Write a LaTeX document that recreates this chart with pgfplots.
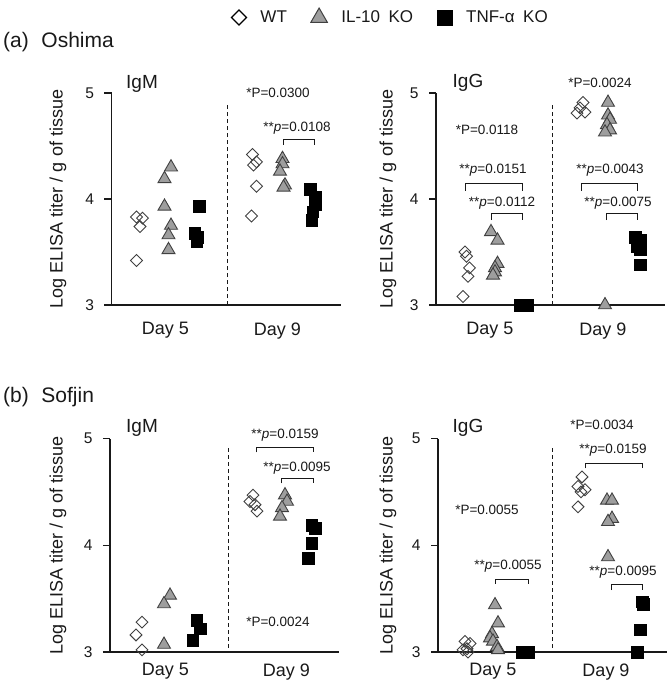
\documentclass[border=0pt]{standalone}
\usepackage{pgfplots}
\pgfplotsset{compat=1.18}
\usepackage{fontspec}
\setmainfont{Liberation Sans}

\definecolor{edge}{gray}{0.25}
\definecolor{trifill}{gray}{0.62}
\definecolor{ink}{gray}{0.1}

\newcommand{\annfont}{\fontsize{13.5bp}{15bp}\selectfont}

\tikzset{
 bracket/.style={line width=0.9bp, color=ink},
 vdash/.style={line width=1bp, color=ink, dash pattern=on 4bp off 3bp},
}

\pgfplotsset{
 wt/.style={only marks, mark=square, mark size=4.2bp, mark options={rotate=45, draw=edge, fill=white, line width=0.9bp}, forget plot},
 il/.style={only marks, mark=triangle*, mark size=7.5bp, mark options={draw=edge, fill=trifill, line width=0.9bp}, forget plot},
 tnf/.style={only marks, mark=square*, mark size=5.8bp, mark options={draw=black, fill=black, line width=0.4bp}, forget plot},
 panel/.style={
  scale only axis, width=229bp, xmin=0, xmax=229, ymin=3, ymax=5,
  axis x line=bottom, axis y line=left,
  axis line style={-, line width=1.2bp, color=ink},
  ytick={3,4,5}, tick align=outside, major tick length=7bp,
  tick style={line width=1.2bp, color=ink},
  xtick style={draw=none},
  xticklabels={Day 5, Day 9},
  /pgf/number format/assume math mode=true,
  yticklabel style={font=\fontsize{15.5bp}{17bp}\selectfont, text=ink, xshift=-7bp},
  xticklabel style={font=\fontsize{18bp}{20bp}\selectfont, text=ink},
  ylabel={Log ELISA titer / g of tissue},
  ylabel style={font=\fontsize{18bp}{20bp}\selectfont, text=ink, anchor=center},
  clip=false,
 },
}

\begin{document}
\begin{tikzpicture}
\path[use as bounding box] (0bp,0bp) rectangle (672bp,-684bp);

\node[anchor=base west, inner sep=0, font=\fontsize{21bp}{24bp}\selectfont, text=ink] at (3bp,-47bp) {(a)\hspace{0.6em}Oshima};
\node[anchor=base west, inner sep=0, font=\fontsize{21bp}{24bp}\selectfont, text=ink] at (3bp,-402bp) {(b)\hspace{0.6em}Sofjin};

% ---------------- (a) IgM
\begin{axis}[panel, at={(111.5bp,-305bp)}, anchor=south west, height=212bp,
  xtick={54,166}, xticklabel style={yshift=-7bp},
  ylabel style={at={(axis description cs:-0.234,0.5)}},
  legend style={at={(axis description cs:0.51,1.358)}, anchor=west, draw=none, fill=none,
    legend columns=3, font=\fontsize{17bp}{19bp}\selectfont, text=ink,
    /tikz/every odd column/.append style={column sep=12bp},
    /tikz/every even column/.append style={column sep=22bp}},
  legend cell align=left]
\addlegendimage{only marks, mark=square, mark size=5.3bp, mark options={rotate=45, draw=black, fill=white, line width=1.2bp}}
\addlegendentry{WT}
\addlegendimage{only marks, mark=triangle*, mark size=9.5bp, mark options={draw=edge, fill=trifill, line width=1bp}}
\addlegendentry{IL-10\hspace{0.5em}KO}
\addlegendimage{only marks, mark=square*, mark size=7.5bp, mark options={draw=black, fill=black}}
\addlegendentry{TNF-α\hspace{0.5em}KO}
\addplot[wt] coordinates {(25,3.83) (31,3.82) (28.5,3.74) (25,3.42)
  (141,4.42) (145,4.35) (142,4.32) (145,4.12) (140,3.84)};
\addplot[il] coordinates {(59.5,4.30) (53,4.19) (53,3.93) (59.5,3.75) (57,3.66) (57,3.52)
  (171,4.38) (171,4.33) (168.5,4.26) (173.5,4.13) (172,4.11)};
\addplot[tnf] coordinates {(87.5,3.93) (83,3.68) (86,3.64) (85,3.60)
  (198.5,4.09) (203.5,4.02) (203.5,3.95) (201,3.88) (200,3.80)};
\draw[vdash] (axis cs:116,3) -- (axis cs:116,4.9);
\node[font=\fontsize{19bp}{21bp}\selectfont, text=ink] at (axis cs:30.5,5.09) {IgM};
\node[font=\annfont, text=ink] at (axis cs:166.5,5.0) {*P=0.0300};
\node[font=\annfont, text=ink] at (axis cs:185.5,4.67) {**\textit{p}=0.0108};
\draw[bracket] (axis cs:171.5,4.51) -- (axis cs:171.5,4.56) -- (axis cs:202.5,4.56) -- (axis cs:202.5,4.51);
\end{axis}

% ---------------- (a) IgG
\begin{axis}[panel, at={(436bp,-305bp)}, anchor=south west, height=212bp,
  xtick={54,167}, xticklabel style={yshift=-7bp},
  ylabel style={at={(axis description cs:-0.21,0.5)}}]
\addplot[wt] coordinates {(29,3.50) (30.5,3.46) (33.5,3.35) (32,3.27) (27,3.08)
  (147,4.91) (144,4.86) (149,4.82) (141,4.81)};
\addplot[il] coordinates {(55,3.69) (61.5,3.61) (61.5,3.39) (59,3.35) (59,3.31) (57,3.28)
  (172,4.91) (172,4.79) (174,4.75) (171,4.70) (174,4.65) (169,4.63) (169,3.0)};
\addplot[tnf] coordinates {(84,3) (88,3) (91,3)
  (199,3.64) (204,3.61) (201,3.55) (204,3.52) (204,3.38)};
\draw[vdash] (axis cs:116,3) -- (axis cs:116,4.9);
\node[font=\fontsize{19bp}{21bp}\selectfont, text=ink] at (axis cs:32,5.10) {IgG};
\node[font=\annfont, text=ink] at (axis cs:164,5.10) {*P=0.0024};
\node[font=\annfont, text=ink] at (axis cs:51,4.65) {*P=0.0118};
\node[font=\annfont, text=ink] at (axis cs:57,4.27) {**\textit{p}=0.0151};
\draw[bracket] (axis cs:29,4.08) -- (axis cs:29,4.15) -- (axis cs:86,4.15) -- (axis cs:86,4.08);
\node[font=\annfont, text=ink] at (axis cs:66,3.96) {**\textit{p}=0.0112};
\draw[bracket] (axis cs:55,3.80) -- (axis cs:55,3.86) -- (axis cs:86,3.86) -- (axis cs:86,3.80);
\node[font=\annfont, text=ink] at (axis cs:174,4.27) {**\textit{p}=0.0043};
\draw[bracket] (axis cs:145,4.08) -- (axis cs:145,4.15) -- (axis cs:201,4.15) -- (axis cs:201,4.08);
\node[font=\annfont, text=ink] at (axis cs:182,3.96) {**\textit{p}=0.0075};
\draw[bracket] (axis cs:170,3.80) -- (axis cs:170,3.86) -- (axis cs:201,3.86) -- (axis cs:201,3.80);
\end{axis}

% ---------------- (b) IgM
\begin{axis}[panel, at={(110bp,-652bp)}, anchor=south west, height=213.5bp,
  xtick={55.5,176.5}, xticklabel style={yshift=-1bp},
  ylabel style={at={(axis description cs:-0.227,0.5)}}]
\addplot[wt] coordinates {(32,3.28) (26,3.16) (32,3.02)
  (143,4.47) (140,4.41) (145,4.38) (147,4.32)};
\addplot[il] coordinates {(60,3.53) (54,3.45) (54,3.07)
  (175,4.47) (177,4.41) (172,4.35) (170,4.27)};
\addplot[tnf] coordinates {(86.5,3.30) (90,3.22) (82.5,3.11)
  (201.5,4.19) (205,4.16) (201.5,4.02) (198,3.88)};
\draw[vdash] (axis cs:118,3.04) -- (axis cs:118,4.91);
\node[font=\fontsize{19bp}{21bp}\selectfont, text=ink] at (axis cs:32,5.10) {IgM};
\node[font=\annfont, text=ink] at (axis cs:175,5.03) {**\textit{p}=0.0159};
\draw[bracket] (axis cs:146,4.87) -- (axis cs:146,4.92) -- (axis cs:203,4.92) -- (axis cs:203,4.87);
\node[font=\annfont, text=ink] at (axis cs:187,4.72) {**\textit{p}=0.0095};
\draw[bracket] (axis cs:171,4.58) -- (axis cs:171,4.63) -- (axis cs:203,4.63) -- (axis cs:203,4.58);
\node[font=\annfont, text=ink] at (axis cs:168,3.28) {*P=0.0024};
\end{axis}

% ---------------- (b) IgG
\begin{axis}[panel, at={(438bp,-652bp)}, anchor=south west, height=213.5bp,
  xtick={55,168}, xticklabel style={yshift=-1bp},
  ylabel style={at={(axis description cs:-0.218,0.5)}}]
\addplot[wt] coordinates {(27,3.10) (32,3.08) (29,3.03) (25,3.02) (30,3.00)
  (144,4.64) (140,4.55) (147,4.52) (143,4.50) (140,4.36)};
\addplot[il] coordinates {(57,3.44) (60,3.27) (54,3.17) (52,3.13) (55,3.10) (59,3.05) (60,3.02)
  (169,4.42) (174,4.42) (174,4.25) (170,4.22) (170,3.89)};
\addplot[tnf] coordinates {(84,3) (90,3)
  (204,3.47) (205,3.45) (202,3.21) (199,3.00)};
\draw[vdash] (axis cs:114,3.04) -- (axis cs:114,4.91);
\node[font=\fontsize{19bp}{21bp}\selectfont, text=ink] at (axis cs:30,5.10) {IgG};
\node[font=\annfont, text=ink] at (axis cs:164,5.13) {*P=0.0034};
\node[font=\annfont, text=ink] at (axis cs:175,4.89) {**\textit{p}=0.0159};
\draw[bracket] (axis cs:147,4.72) -- (axis cs:147,4.77) -- (axis cs:204,4.77) -- (axis cs:204,4.72);
\node[font=\annfont, text=ink] at (axis cs:49,4.33) {*P=0.0055};
\node[font=\annfont, text=ink] at (axis cs:70,3.80) {**\textit{p}=0.0055};
\draw[bracket] (axis cs:57,3.64) -- (axis cs:57,3.68) -- (axis cs:90,3.68) -- (axis cs:90,3.64);
\node[font=\annfont, text=ink] at (axis cs:185,3.75) {**\textit{p}=0.0095};
\draw[bracket] (axis cs:173,3.58) -- (axis cs:173,3.63) -- (axis cs:204,3.63) -- (axis cs:204,3.58);
\end{axis}
\end{tikzpicture}
\end{document}
